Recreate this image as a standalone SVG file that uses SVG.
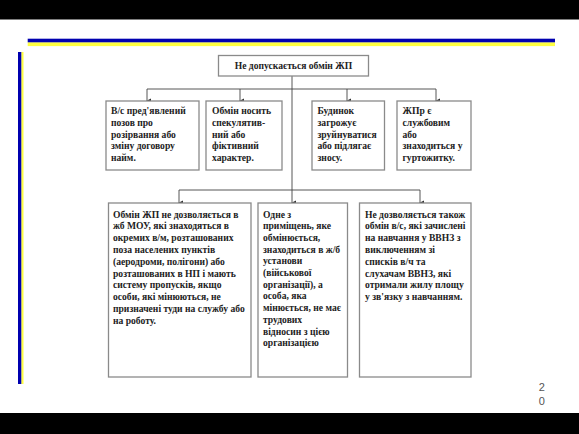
<svg xmlns="http://www.w3.org/2000/svg" width="579" height="434" viewBox="0 0 579 434">
<defs>
<marker id="ah" markerWidth="6" markerHeight="6" refX="3" refY="5" orient="auto-start-reverse" markerUnits="userSpaceOnUse" viewBox="0 0 6 6">
<path d="M0.5,1 L3,6 L5.5,1 Z" fill="#333"/>
</marker>
<style>
.box{fill:#fff;stroke:#8a8a8a;stroke-width:1.3}
.t{font-family:"Liberation Serif","Times New Roman",serif;font-weight:bold;font-size:9.6px;fill:#222}
.c{fill:none;stroke:#444;stroke-width:0.9}
.num{font-family:"Liberation Sans",Arial,sans-serif;font-size:11px;fill:#555}
</style>
</defs>
<rect x="0" y="0" width="579" height="434" fill="#fff"/>
<rect x="0" y="0" width="579" height="19.5" fill="#000"/>
<rect x="0" y="413" width="579" height="21" fill="#000"/>
<rect x="27.7" y="42.3" width="527.3" height="3.8" fill="#ffff40"/>
<rect x="27.7" y="38.7" width="527.3" height="3.6" fill="#0000b0"/>
<rect x="21.3" y="52" width="2.2" height="332" fill="#ffff40"/>
<rect x="18" y="52" width="3.3" height="332" fill="#0000b0"/>

<g id="connectors">
<path class="c" d="M292,76 V89" />
<path class="c" d="M147,89 H436" />
<path class="c" d="M147,89 V101" marker-end="url(#ah)"/>
<path class="c" d="M240,89 V101" marker-end="url(#ah)"/>
<path class="c" d="M347,89 V101" marker-end="url(#ah)"/>
<path class="c" d="M436,89 V101" marker-end="url(#ah)"/>
<path class="c" d="M292,89 V203" marker-end="url(#ah)"/>
<path class="c" d="M179,190 H420" />
<path class="c" d="M179,190 V203" marker-end="url(#ah)"/>
<path class="c" d="M420,190 V203" marker-end="url(#ah)"/>
</g>

<g id="top">
<rect class="box" x="218.5" y="55.5" width="150" height="20.5"/>
<text class="t" x="293.5" y="69" text-anchor="middle">Не допускається обмін ЖП</text>
</g>

<g id="n1">
<rect class="box" x="106" y="101" width="93" height="69"/>
<text class="t" x="111" y="114"><tspan x="111">В/с пред'явлений</tspan><tspan x="111" dy="11.8">позов про</tspan><tspan x="111" dy="11.8">розірвання або</tspan><tspan x="111" dy="11.8">зміну договору</tspan><tspan x="111" dy="11.8">найм.</tspan></text>
</g>

<g id="n2">
<rect class="box" x="206" y="101" width="76" height="69"/>
<text class="t" x="212" y="114"><tspan x="212">Обмін носить</tspan><tspan x="212" dy="11.8">спекулятив-</tspan><tspan x="212" dy="11.8">ний або</tspan><tspan x="212" dy="11.8">фіктивний</tspan><tspan x="212" dy="11.8">характер.</tspan></text>
</g>

<g id="n3">
<rect class="box" x="312" y="101" width="72.5" height="69"/>
<text class="t" x="317.5" y="114"><tspan x="317.5">Будинок</tspan><tspan x="317.5" dy="11.8">загрожує</tspan><tspan x="317.5" dy="11.8">зруйнуватися</tspan><tspan x="317.5" dy="11.8">або підлягає</tspan><tspan x="317.5" dy="11.8">зносу.</tspan></text>
</g>

<g id="n4">
<rect class="box" x="397" y="101" width="74" height="69"/>
<text class="t" x="402.5" y="114"><tspan x="402.5">ЖПр є</tspan><tspan x="402.5" dy="11.8">службовим</tspan><tspan x="402.5" dy="11.8">або</tspan><tspan x="402.5" dy="11.8">знаходиться у</tspan><tspan x="402.5" dy="11.8">гуртожитку.</tspan></text>
</g>

<g id="n5">
<rect class="box" x="108.5" y="203" width="142.5" height="174"/>
<text class="t" x="113" y="217.5"><tspan x="113">Обмін ЖП не дозволяється в</tspan><tspan x="113" dy="11.8">жб МОУ, які знаходяться в</tspan><tspan x="113" dy="11.8">окремих в/м, розташованих</tspan><tspan x="113" dy="11.8">поза населених пунктів</tspan><tspan x="113" dy="11.8">(аеродроми, полігони) або</tspan><tspan x="113" dy="11.8">розташованих в НП і мають</tspan><tspan x="113" dy="11.8">систему пропусків, якщо</tspan><tspan x="113" dy="11.8">особи, які мінюються, не</tspan><tspan x="113" dy="11.8">призначені туди на службу або</tspan><tspan x="113" dy="11.8">на роботу.</tspan></text>
</g>

<g id="n6">
<rect class="box" x="258" y="203" width="89.5" height="174"/>
<text class="t" x="263" y="217.5"><tspan x="263">Одне з</tspan><tspan x="263" dy="11.7">приміщень, яке</tspan><tspan x="263" dy="11.7">обмінюється,</tspan><tspan x="263" dy="11.7">знаходиться в ж/б</tspan><tspan x="263" dy="11.7">установи</tspan><tspan x="263" dy="11.7">(військової</tspan><tspan x="263" dy="11.7">організації), а</tspan><tspan x="263" dy="11.7">особа, яка</tspan><tspan x="263" dy="11.7">мінюється, не має</tspan><tspan x="263" dy="11.7">трудових</tspan><tspan x="263" dy="11.7">відносин з цією</tspan><tspan x="263" dy="11.7">організацією</tspan></text>
</g>

<g id="n7">
<rect class="box" x="359.5" y="203" width="111.5" height="174"/>
<text class="t" x="365" y="217.5"><tspan x="365">Не дозволяється також</tspan><tspan x="365" dy="11.8">обмін в/с, які зачислені</tspan><tspan x="365" dy="11.8">на навчання у ВВНЗ з</tspan><tspan x="365" dy="11.8">виключенням зі</tspan><tspan x="365" dy="11.8">списків в/ч та</tspan><tspan x="365" dy="11.8">слухачам ВВНЗ, які</tspan><tspan x="365" dy="11.8">отримали жилу площу</tspan><tspan x="365" dy="11.8">у зв'язку з навчанням.</tspan></text>
</g>

<text class="num" x="541.7" y="390.5" text-anchor="middle">2</text>
<text class="num" x="541.7" y="404.5" text-anchor="middle">0</text>
</svg>
